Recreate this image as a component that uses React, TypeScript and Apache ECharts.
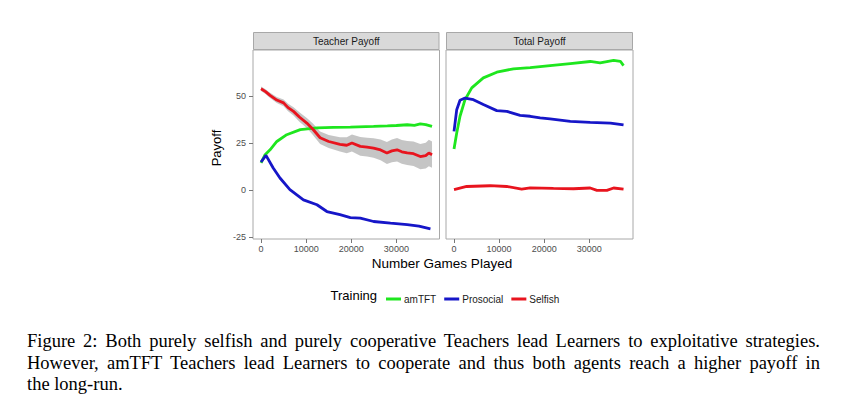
import React, { useEffect, useRef } from "react";
import * as echarts from "echarts";

// ---------- data ----------
const panels = ["Teacher Payoff", "Total Payoff"];
const seriesNames = ["amTFT", "Prosocial", "Selfish"];
const xTicks = [0, 10000, 20000, 30000];
const yTicks = [-25, 0, 25, 50];

// Teacher Payoff panel
const teacherGreenX = [0, 900, 2000, 3500, 5700, 8700, 12400, 16000, 19800, 24950, 28000, 30000, 32400, 34000, 35300, 36500, 37900];
const teacherGreenY = [14.6, 19, 21.6, 26, 29.6, 32.3, 33.2, 33.5, 33.6, 34, 34.3, 34.5, 34.9, 34.6, 35.3, 35, 34];
const teacherBlueX = [0, 1100, 2700, 4200, 6400, 9400, 12400, 14600, 17500, 19800, 22000, 24950, 28700, 32400, 35000, 37550];
const teacherBlueY = [15.1, 18.6, 11.9, 6.6, 0.4, -5, -7.6, -11.2, -12.9, -14.4, -14.7, -16.5, -17.4, -18.2, -19, -20.4];
const teacherRedX = [0, 1000, 2000, 3500, 5000, 6000, 7200, 8500, 10150, 11500, 13100, 15000, 17500, 19000, 20150, 22000, 23500, 24950, 26500, 27900, 29000, 30150, 31200, 32400, 33800, 35300, 36500, 37200, 37900];
const teacherRedY = [54, 52.5, 50.5, 48, 46.5, 44, 42, 39, 35.8, 32.5, 28, 26, 24.5, 24, 25.2, 23.4, 23, 22.5, 21.5, 19.9, 21, 21.6, 20.5, 19.9, 19.5, 18, 18.5, 19.9, 19];
const teacherRedHalfCI = [1.2, 1.3, 1.4, 1.6, 1.8, 2, 2.2, 2.5, 2.7, 3, 3.3, 3.5, 3.8, 4.2, 4.5, 5, 5, 5.2, 5.5, 5.8, 6, 6.2, 6.3, 6.4, 6.5, 6.7, 6.8, 7, 7];

// Total Payoff panel
const totalGreenX = [0, 600, 1330, 2440, 3930, 6500, 9480, 13180, 16900, 21300, 25800, 30200, 32400, 35400, 36900, 37600];
const totalGreenY = [22, 30.5, 39.4, 48.2, 54.5, 59.8, 62.8, 64.6, 65.2, 66.3, 67.4, 68.5, 67.8, 69.1, 68.6, 66.3];
const totalBlueX = [0, 600, 1330, 2440, 4300, 6500, 9480, 11700, 14660, 16900, 19100, 21300, 25800, 30200, 34700, 37600];
const totalBlueY = [31.4, 42.9, 47.9, 49.1, 48.2, 45.6, 42.4, 42, 39.9, 39.4, 38.5, 38, 36.7, 36.2, 35.8, 34.8];
const totalRedX = [0, 2800, 8000, 11700, 15000, 16900, 22060, 26500, 30200, 31700, 33900, 35400, 37600];
const totalRedY = [0.4, 2.1, 2.5, 2.1, 0.7, 1.4, 1.1, 0.9, 1.3, 0, 0, 1.3, 0.7];

const captionLines = [
  "Figure 2: Both purely selfish and purely cooperative Teachers lead Learners to exploitative strategies.",
  "However, amTFT Teachers lead Learners to cooperate and thus both agents reach a higher payoff in",
  "the long-run.",
];

// ---------- styling ----------
const COLORS = ["#1ee61e", "#1616c8", "#e8141e"];
const SANS = "Liberation Sans, Arial, Helvetica, sans-serif";

const zip = (xs: number[], ys: number[]) => xs.map((x, i) => [x, ys[i]]);

export default function App() {
  const ref = useRef<HTMLDivElement>(null);

  useEffect(() => {
    document.body.style.margin = "0";
    if (!ref.current) return;
    const chart = echarts.init(ref.current, null, { renderer: "svg" });

    const gridTop = 50;
    const gridHeight = 189;
    const grids = [
      { left: 253, top: gridTop, width: 186.5, height: gridHeight },
      { left: 446, top: gridTop, width: 187, height: gridHeight },
    ];
    const xMax = [39556, 39700];

    const xAxes = grids.map((_, i) => ({
      type: "value",
      gridIndex: i,
      min: -1778,
      max: xMax[i],
      axisLine: { show: false, onZero: false },
      splitLine: { show: false },
      axisTick: { show: true, length: 4, lineStyle: { color: "#777" }, customValues: xTicks },
      axisLabel: {
        customValues: xTicks,
        formatter: (v: number) => String(v),
        fontSize: 9,
        color: "#4d4d4d",
        fontFamily: SANS,
        margin: 5,
      },
    }));

    const yAxes = grids.map((_, i) => ({
      type: "value",
      gridIndex: i,
      min: -25.8,
      max: 74.6,
      axisLine: { show: false, onZero: false },
      splitLine: { show: false },
      axisTick: { show: i === 0, length: 4, lineStyle: { color: "#777" }, customValues: yTicks },
      axisLabel: {
        show: i === 0,
        customValues: yTicks,
        formatter: (v: number) => String(v),
        fontSize: 9,
        color: "#4d4d4d",
        fontFamily: SANS,
        margin: 7,
      },
    }));

    const line = (name: string, color: string, data: number[][], idx: number) => ({
      type: "line",
      name,
      xAxisIndex: idx,
      yAxisIndex: idx,
      data,
      color,
      showSymbol: false,
      symbol: "none",
      lineStyle: { color, width: 2.8 },
      z: 5,
    });

    const redLower = teacherRedY.map((v, i) => v - teacherRedHalfCI[i]);
    const redUpper = teacherRedY.map((v, i) => v + teacherRedHalfCI[i]);
    const ribbonData = teacherRedX.map((x, i) => [x, redLower[i], redUpper[i]]);

    const series: any[] = [
      {
        type: "custom",
        name: "ci",
        xAxisIndex: 0,
        yAxisIndex: 0,
        data: ribbonData,
        encode: { x: 0, y: [1, 2] },
        silent: true,
        z: 2,
        renderItem: (params: any, api: any) => {
          if (params.dataIndex !== 0) return null;
          const pts: number[][] = [];
          for (let i = 0; i < ribbonData.length; i++) pts.push(api.coord([ribbonData[i][0], ribbonData[i][2]]));
          for (let i = ribbonData.length - 1; i >= 0; i--) pts.push(api.coord([ribbonData[i][0], ribbonData[i][1]]));
          return {
            type: "polygon",
            shape: { points: pts, smooth: 0 },
            style: { fill: "rgba(150,150,150,0.55)", stroke: "none" },
          };
        },
      },
      line(seriesNames[0], COLORS[0], zip(teacherGreenX, teacherGreenY), 0),
      line(seriesNames[1], COLORS[1], zip(teacherBlueX, teacherBlueY), 0),
      line(seriesNames[2], COLORS[2], zip(teacherRedX, teacherRedY), 0),
      line(seriesNames[0], COLORS[0], zip(totalGreenX, totalGreenY), 1),
      line(seriesNames[1], COLORS[1], zip(totalBlueX, totalBlueY), 1),
      line(seriesNames[2], COLORS[2], zip(totalRedX, totalRedY), 1),
    ];

    const strips = grids.map((g, i) => ({
      type: "group",
      children: [
        {
          type: "rect",
          shape: { x: g.left + 0.5, y: 32.5, width: g.width - 1, height: gridTop - 33 },
          style: { fill: "#d9d9d9", stroke: "#a8a8a8", lineWidth: 1 },
        },
        {
          type: "text",
          x: g.left + g.width / 2,
          y: 41.5,
          style: {
            text: panels[i],
            fontSize: 10,
            fontFamily: SANS,
            fill: "#1a1a1a",
            align: "center",
            verticalAlign: "middle",
          },
        },
      ],
    }));

    chart.setOption({
      animation: false,
      backgroundColor: "#ffffff",
      grid: grids.map((g) => ({ ...g, show: true, borderColor: "#a8a8a8", borderWidth: 1, backgroundColor: "#fff" })),
      xAxis: xAxes,
      yAxis: yAxes,
      legend: {
        data: seriesNames,
        left: 381,
        top: 288,
        icon: "rect",
        itemWidth: 15,
        itemHeight: 3,
        itemGap: 8,
        textStyle: { fontSize: 10, fontFamily: SANS, color: "#1a1a1a", lineHeight: 12, padding: [0, 0, 0, -2] },
      },
      graphic: [
        ...strips,
        {
          type: "text",
          x: 442,
          y: 263,
          style: {
            text: "Number Games Played",
            fontSize: 13.5,
            fontFamily: SANS,
            fill: "#000",
            align: "center",
            verticalAlign: "middle",
          },
        },
        {
          type: "text",
          x: 216,
          y: 148,
          rotation: Math.PI / 2,
          style: {
            text: "Payoff",
            fontSize: 13,
            fontFamily: SANS,
            fill: "#000",
            align: "center",
            verticalAlign: "middle",
          },
        },
        {
          type: "text",
          x: 377,
          y: 295,
          style: {
            text: "Training",
            fontSize: 13,
            fontFamily: SANS,
            fill: "#000",
            align: "right",
            verticalAlign: "middle",
          },
        },
      ],
      series,
    });

    return () => chart.dispose();
  }, []);

  return (
    <div style={{ position: "absolute", left: 0, top: 0, width: 846, height: 414, background: "#fff" }}>
      <div ref={ref} style={{ position: "absolute", left: 0, top: 0, width: 846, height: 414 }} />
      <div
        style={{
          position: "absolute",
          left: 27,
          top: 331,
          width: 793,
          fontFamily: "Liberation Serif, Times New Roman, serif",
          fontSize: 18.5,
          lineHeight: "21.5px",
          color: "#000",
        }}
      >
        {captionLines.map((t, i) => (
          <div
            key={i}
            style={{
              textAlign: i < 2 ? "justify" : "left",
              textAlignLast: i < 2 ? "justify" : "left",
              whiteSpace: "nowrap",
            } as any}
          >
            {t}
          </div>
        ))}
      </div>
    </div>
  );
}
